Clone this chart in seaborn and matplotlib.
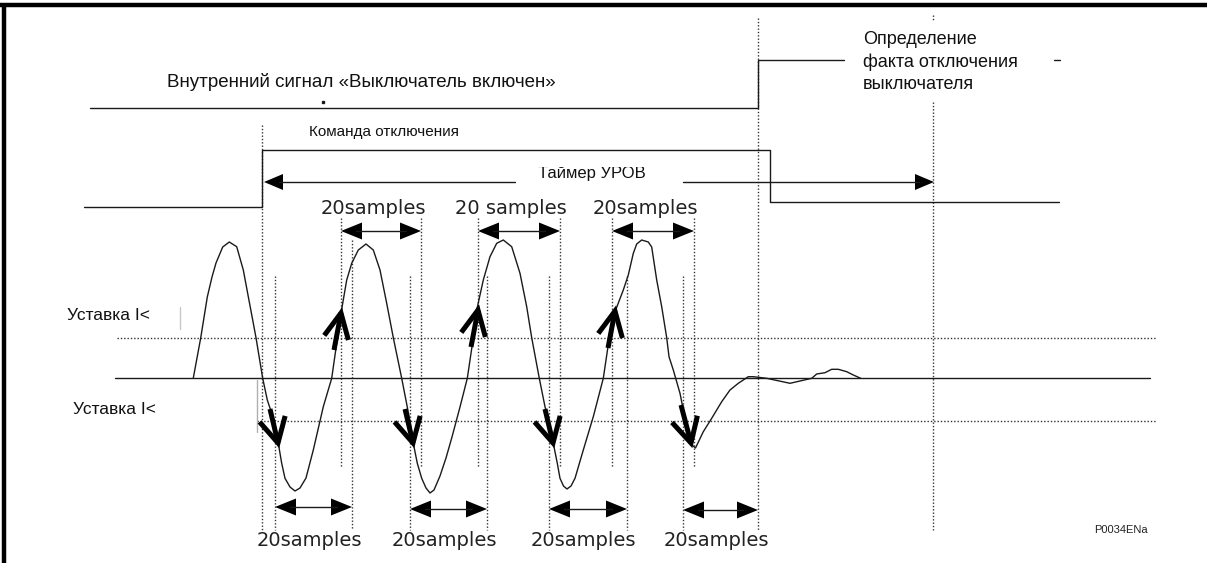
import numpy as np
import pandas as pd
import matplotlib
matplotlib.use("Agg")
import matplotlib.pyplot as plt
from matplotlib.patches import Rectangle
import seaborn as sns

W, H = 1207, 563

# ---- current waveform (pixel units) ----
wave_x = [193.3, 200.7, 207.3, 212, 216, 222.7, 229.3, 236.7, 243.3, 248.3, 252.7, 256, 262.7, 267.3, 274.3,
          278.3, 281.7, 285, 290, 295, 300, 306, 313.3, 323.3, 331.7, 336.7, 341, 346.7, 351.7, 358.3, 366,
          373.3, 380, 386.7, 393.3, 401.7, 410, 413.3, 417.3, 421.7, 426, 430, 434, 440, 446, 452, 460, 467.3,
          471.5, 476.7, 483.3, 490, 496.7, 503.3, 511.7, 520, 526.7, 531.7, 539.3, 545, 550, 553.3, 557.3, 560,
          563.5, 567, 571, 575, 583.3, 593.3, 603.3, 609.3, 615, 623.3, 628.3, 633.3, 636.7, 641.7, 648.3,
          651.7, 656.7, 661.7, 666.7, 669, 673.3, 680, 683.3, 688.3, 690, 695.5, 703.3, 711.7, 716.7, 721.7,
          730, 738.3, 748.3, 753.3, 766.7, 790, 811.7, 816.7, 825, 831.7, 838.3, 846.7, 853.3, 860.7]
wave_y = [378, 338, 297, 277, 263, 247, 242, 246.7, 270, 296.7, 320, 337.7, 378.3, 400, 421,
          443.3, 463.3, 478.3, 487, 491, 488, 478, 450, 406.7, 378.3, 343.3, 313.3, 280, 263.3, 250, 244,
          250, 270, 303.3, 337.7, 378.3, 421, 443.3, 463.3, 478.3, 488, 493, 490, 476, 458, 437, 407, 378.3,
          350, 310, 280, 256.7, 243.3, 240, 246.7, 273.3, 306.7, 337.7, 378.3, 406.7, 426.7, 443.3, 463.3, 478.3,
          486, 489, 486, 478.3, 450, 416.7, 378.3, 337.7, 311.7, 290, 275, 253.3, 244, 240, 242,
          247, 280, 306.7, 337.7, 356.7, 370, 393.3, 410, 430, 443.3, 448, 431.7, 418.3, 410, 401.7,
          390, 383.3, 376.7, 376.7, 378.3, 383.3, 378.3, 374, 372.7, 369.3, 369.3, 371.7, 375, 378.3]

zero_level = 378
setting_high = 338
setting_low = 421

# ---- logic signals ----
cb_closed_x = [90, 758, 758, 844]
cb_closed_y = [108, 108, 60, 60]
trip_x = [84, 262, 262, 770, 770, 1059]
trip_y = [207, 207, 150, 150, 202, 202]

timer_x = [264, 934]
timer_y = 182
timer_gap = [515, 683]

# ---- "20 samples" spans ----
upper_spans = [(341, 421), (478, 560), (612, 694)]
upper_y = 231
upper_texts = ["20samples", "20 samples", "20samples"]
lower_spans = [(275, 352), (410, 487), (549, 627), (683, 758)]
lower_y = [507, 509, 509, 510]
lower_texts = ["20samples", "20samples", "20samples", "20samples"]

# ---- threshold crossing arrows (tip, back-vector) ----
down_tips = [(278, 443), (413, 443), (553, 443), (691, 443)]
down_back = [(-8, -34), (-8, -34), (-8, -34), (-10, -38)]
up_tips = [(341, 313), (478, 310), (615, 311)]
up_back = [(-7, 37), (-7, 37), (-7, 37)]

# ---- dotted markers (x, y0, y1) ----
long_vlines = [(262, 125, 530), (758, 18, 530), (933, 102, 530)]

sns.set_theme(style="white")
plt.rcParams["font.family"] = ["DejaVu Sans"]

fig = plt.figure(figsize=(W / 100, H / 100), dpi=100)
ax = fig.add_axes([0, 0, 1, 1])

ink = "#1a1a1a"
dot = dict(color="#333333", lw=1.0, linestyle=(0, (1, 1.4)))

# frame (top and left)
ax.plot([0, W], [5, 5], color="black", lw=3.2, solid_capstyle="butt")
ax.plot([4, 4], [3, H], color="black", lw=3.2, solid_capstyle="butt")

# dotted verticals
for x, y0, y1 in long_vlines:
    ax.plot([x, x], [y0, y1], **dot)
ax.plot([933, 933], [15, 21], **dot)
for a, b in upper_spans:
    ax.plot([a, a], [218, 468], **dot)
    ax.plot([b, b], [218, 468], **dot)
for (a, b) in lower_spans:
    ax.plot([a, a], [276, 530], **dot)
    if b != 758:
        ax.plot([b, b], [240 if a == 275 else 276, 530], **dot)

# thresholds
ax.plot([117, 1157], [setting_high] * 2, **dot)
ax.plot([257, 1157], [setting_low] * 2, **dot)
ax.plot([115, 1150], [zero_level] * 2, color=ink, lw=1.0)
ax.plot([257, 257], [380, 432], color="#b0b0b0", lw=1.0)
ax.plot([180, 180], [307, 329], color="#c8c8c8", lw=1.0)

# waveform
wave = pd.DataFrame({"x": wave_x, "y": wave_y})
sns.lineplot(data=wave, x="x", y="y", sort=False, estimator=None, color=ink, lw=1.0, ax=ax)

# signals
sig1 = pd.DataFrame({"x": cb_closed_x, "y": cb_closed_y})
sig2 = pd.DataFrame({"x": trip_x, "y": trip_y})
sns.lineplot(data=sig1, x="x", y="y", sort=False, estimator=None, color=ink, lw=1.0, ax=ax)
sns.lineplot(data=sig2, x="x", y="y", sort=False, estimator=None, color=ink, lw=1.0, ax=ax)
ax.plot([1054, 1060], [60, 60], color=ink, lw=1.0)
ax.plot([323], [102], marker="s", ms=1.5, color=ink)


def head(xt, yt, direction, length=20, half=8):
    xb = xt - direction * length
    ax.fill([xt, xb, xb], [yt, yt - half, yt + half], color="black", lw=0)


# timer arrow
ax.plot([timer_x[0] + 15, timer_gap[0]], [timer_y] * 2, color=ink, lw=1.0)
ax.plot([timer_gap[1], timer_x[1] - 15], [timer_y] * 2, color=ink, lw=1.0)
head(timer_x[0], timer_y, -1, 19, 8)
head(timer_x[1], timer_y, 1, 19, 8)

# 20-sample double arrows
for (a, b), t in zip(upper_spans, upper_texts):
    ax.plot([a + 15, b - 15], [upper_y] * 2, color=ink, lw=1.0)
    head(a, upper_y, -1, 21, 8.5)
    head(b, upper_y, 1, 21, 8.5)
    ax.text((a + b) / 2 - 8, 208, t, ha="center", va="center", fontsize=14, color="#222222")
lower_cx = [309, 444, 583, 716]
for (a, b), yy, t, cx in zip(lower_spans, lower_y, lower_texts, lower_cx):
    ax.plot([a + 15, b - 15], [yy] * 2, color=ink, lw=1.0)
    head(a, yy, -1, 21, 8.5)
    head(b, yy, 1, 21, 8.5)
    ax.text(cx, 541, t, ha="center", va="center", fontsize=14, color="#222222")


# thick open arrows at threshold crossings
def open_arrow(tip, back, arm=28, ang=28):
    tx, ty = tip
    bx, by = back
    n = np.hypot(bx, by)
    ux, uy = bx / n, by / n
    pts = []
    for s in (-1, 1):
        r = np.deg2rad(s * ang)
        vx = ux * np.cos(r) - uy * np.sin(r)
        vy = ux * np.sin(r) + uy * np.cos(r)
        pts.append((tx + vx * arm, ty + vy * arm))
    ax.plot([pts[0][0], tx, pts[1][0]], [pts[0][1], ty, pts[1][1]], color="black", lw=3.6,
            solid_joinstyle="miter", solid_capstyle="butt", zorder=4)
    ax.plot([tx, tx + bx], [ty, ty + by], color="black", lw=3.6, solid_capstyle="butt", zorder=4)


for t, b in zip(down_tips, down_back):
    open_arrow(t, b)
for t, b in zip(up_tips, up_back):
    open_arrow(t, b, ang=26)

# Russian labels
ru = ["Liberation Sans", "DejaVu Sans"]
ax.text(167, 82, "Внутренний сигнал «Выключатель включен»", ha="left", va="center", fontsize=13.5,
        family=ru, color="#111111")
ax.text(309, 132, "Команда отключения", ha="left", va="center", fontsize=11, family=ru, color="#111111")
ax.text(592, 173, "Таймер УРОВ", ha="center", va="center", fontsize=12, family=ru, color="#111111")
ax.add_patch(Rectangle((520, 153), 150, 13.5, facecolor="white", edgecolor="none", zorder=3))
ax.text(863, 62, "Определение\nфакта отключения\nвыключателя", ha="left", va="center", fontsize=13,
        family=ru, color="#111111", linespacing=1.4)
ax.text(67, 315, "Уставка I<", ha="left", va="center", fontsize=12.5, family=ru, color="#111111")
ax.text(73, 410, "Уставка I<", ha="left", va="center", fontsize=12.5, family=ru, color="#111111")
ax.text(1094, 530, "P0034ENa", ha="left", va="center", fontsize=8, family=ru, color="#222222")

ax.set_xlim(0, W)
ax.set_ylim(H, 0)
ax.axis("off")

fig.savefig("out.png", dpi=100, facecolor="white")
